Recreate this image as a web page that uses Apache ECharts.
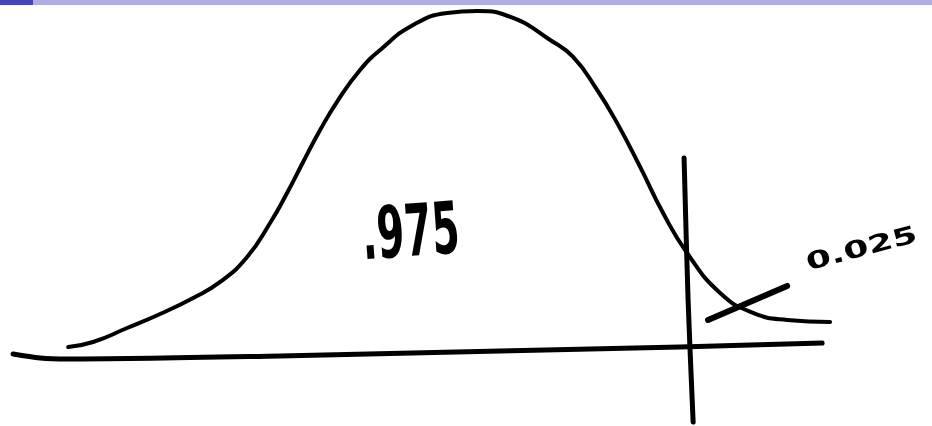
<!DOCTYPE html>
<html>
<head>
<meta charset="utf-8">
<script src="https://cdn.jsdelivr.net/npm/echarts@6/dist/echarts.min.js"></script>
<style>
  html, body { margin: 0; padding: 0; background: #ffffff; }
  #chart { width: 932px; height: 426px; }
</style>
</head>
<body>
<div id="chart"></div>
<script>
// Sketch of a bell curve with a right-tail cutoff at z = 1.96.
// x values are z-scores, y values are density heights.
const curveZ = [-3.406, -3.189, -2.893, -2.605, -2.317, -2.082, -1.847, -1.647, -1.499, -1.359,
                -1.211, -1.054, -0.863, -0.688, -0.401, -0.105, 0.157, 0.470, 0.793, 0.993,
                1.202, 1.376, 1.577, 1.777, 1.986, 2.274, 2.561, 2.858, 3.232];
const curveDensity = [0.0033, 0.0092, 0.0257, 0.0423, 0.0612, 0.0801, 0.1096, 0.1497, 0.1851, 0.2217,
                      0.2595, 0.2949, 0.3304, 0.3540, 0.3835, 0.3977, 0.4000, 0.3918, 0.3658, 0.3458,
                      0.3068, 0.2679, 0.2159, 0.1615, 0.1143, 0.0671, 0.0435, 0.0352, 0.0328];

// hand-drawn horizontal axis
const baseZ = [-3.886, -3.650, -3.415, -1.560, 0.357, 1.925, 3.163];
const baseDensity = [-0.0050, -0.0097, -0.0109, -0.0073, -0.0014, 0.0033, 0.0080];

// cutoff line
const cutZ = [1.960, 1.995, 2.039];
const cutDensity = [0.2264, 0.0588, -0.0853];

// pointer stroke into the tail area
const pointerZ = [2.169, 2.858];
const pointerDensity = [0.0352, 0.0754];

// area labels
const labelText = ['.975', '0.025'];
const labelZ = [-0.42, 3.51];
const labelDensity = [0.133, 0.118];

const zip = (xs, ys) => xs.map((x, i) => [x, ys[i]]);
const penStyle = (w) => ({ color: '#000000', width: w, cap: 'round', join: 'round' });

const chart = echarts.init(document.getElementById('chart'), null, { renderer: 'canvas' });
chart.setOption({
  backgroundColor: '#ffffff',
  animation: false,
  grid: { left: 0, right: 0, top: 0, bottom: 0, containLabel: false },
  xAxis: { type: 'value', min: -4, max: 4.12, show: false },
  yAxis: { type: 'value', min: -0.09, max: 0.413, show: false },
  series: [
    { type: 'line', data: zip(curveZ, curveDensity), smooth: 0.5, symbol: 'none', lineStyle: penStyle(4) },
    { type: 'line', data: zip(baseZ, baseDensity), smooth: 0.3, symbol: 'none', lineStyle: penStyle(5) },
    { type: 'line', data: zip(cutZ, cutDensity), smooth: 0.3, symbol: 'none', lineStyle: penStyle(5) },
    { type: 'line', data: zip(pointerZ, pointerDensity), symbol: 'none', lineStyle: penStyle(6) }
  ]
});

// Header stripe plus the two area labels, placed through the grid's own scales.
const labelStyles = [
  { fontSize: 72, scaleX: 0.55, rotation: 0.07, weight: 'bold' },
  { fontSize: 24, scaleX: 1.5, rotation: 0.26, weight: 'bold' }
];
const labelGraphics = labelText.map((t, i) => {
  const [px, py] = chart.convertToPixel({ gridIndex: 0 }, [labelZ[i], labelDensity[i]]);
  const s = labelStyles[i];
  return {
    type: 'text', x: px, y: py, scaleX: s.scaleX, rotation: s.rotation, z: 20,
    style: {
      text: t, fill: '#000000', fontSize: s.fontSize, fontWeight: s.weight,
      fontFamily: 'DejaVu Sans, sans-serif', align: 'center', verticalAlign: 'middle'
    }
  };
});
chart.setOption({
  graphic: [
    { type: 'rect', left: 0, top: 0, shape: { width: 932, height: 5 }, style: { fill: '#aeaee0' }, z: 10 },
    { type: 'rect', left: 0, top: 0, shape: { width: 33, height: 5 }, style: { fill: '#4444b8' }, z: 11 }
  ].concat(labelGraphics)
});
</script>
</body>
</html>
